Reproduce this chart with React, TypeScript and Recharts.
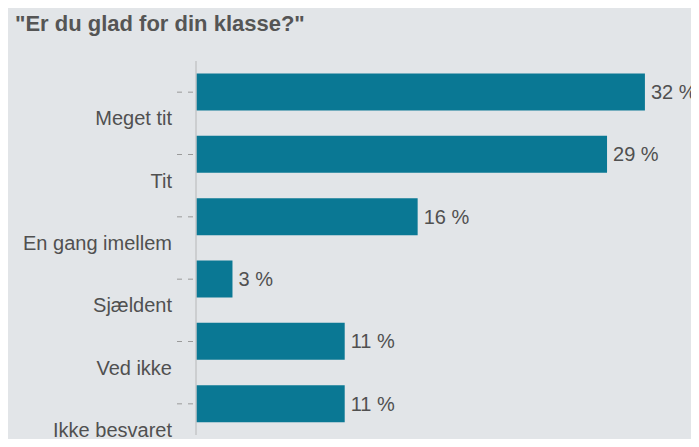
import React from "react";
import { BarChart, Bar, XAxis, YAxis, LabelList } from "recharts";

const categories = [
  "Meget tit",
  "Tit",
  "En gang imellem",
  "Sjældent",
  "Ved ikke",
  "Ikke besvaret",
];
const shares = [32, 29.3, 15.8, 2.6, 10.6, 10.6];

const title = '"Er du glad for din klasse?"';

const FONT = '"Liberation Sans", Arial, Helvetica, sans-serif';
const BAR_COLOR = "#0a7894";
const PANEL_BG = "#e2e5e8";

const data = categories.map((name, i) => ({ name, value: shares[i] }));

function CategoryTick(props: any) {
  const { y, payload } = props;
  return (
    <g>
      <line
        x1={177}
        x2={194}
        y1={y}
        y2={y}
        stroke="#9a9a9a"
        strokeWidth={1}
        strokeDasharray="5 6"
      />
      <text
        x={172}
        y={y + 33}
        textAnchor="end"
        fill="#505050"
        fontSize={20}
        fontFamily={FONT}
      >
        {payload.value}
      </text>
    </g>
  );
}

export default function App() {
  return (
    <div
      style={{
        position: "relative",
        width: 699,
        height: 447,
        margin: -8,
        background: "#ffffff",
        overflow: "hidden",
      }}
    >
      <div
        style={{
          position: "absolute",
          left: 6,
          top: 7,
          width: 693,
          height: 440,
          background: PANEL_BG,
        }}
      />
      <div
        style={{
          position: "absolute",
          left: 15,
          top: 11,
          fontFamily: FONT,
          fontWeight: "bold",
          fontSize: 22,
          color: "#555555",
          whiteSpace: "nowrap",
        }}
      >
        {title}
      </div>
      <div style={{ position: "absolute", left: 0, top: 0 }}>
        <BarChart
          width={699}
          height={447}
          data={data}
          layout="vertical"
          margin={{ top: 61, right: 12, bottom: 12, left: 0 }}
          barCategoryGap="20%"
        >
          <XAxis type="number" domain={[0, 35]} hide />
          <YAxis
            type="category"
            dataKey="name"
            width={196}
            axisLine={{ stroke: "#c4c6c9", strokeWidth: 1.5 }}
            tickLine={false}
            tick={<CategoryTick />}
            interval={0}
          />
          <Bar dataKey="value" fill={BAR_COLOR} isAnimationActive={false}>
            <LabelList
              dataKey="value"
              position="right"
              offset={6}
              fill="#505050"
              fontSize={20}
              fontFamily={FONT}
              formatter={(v: any) => `${Math.round(Number(v))} %`}
            />
          </Bar>
        </BarChart>
      </div>
    </div>
  );
}
